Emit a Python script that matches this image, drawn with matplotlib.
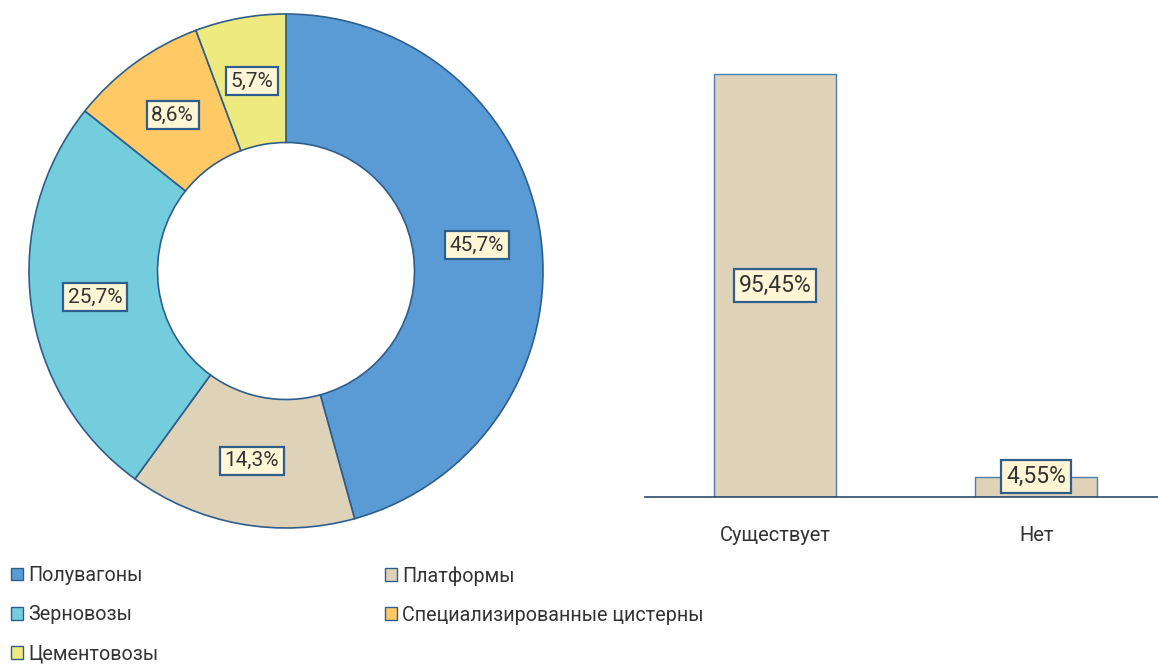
import matplotlib.pyplot as plt
from matplotlib.patches import Patch

plt.rcParams['font.family'] = ['Roboto', 'DejaVu Sans']

# Данные для кольцевой диаграммы
wagon_types = ['Полувагоны', 'Платформы', 'Зерновозы',
               'Специализированные цистерны', 'Цементовозы']
wagon_shares = [45.7, 14.3, 25.7, 8.6, 5.7]
wagon_colors = ['#5B9BD5', '#DED3B8', '#74CDDD', '#FFC966', '#EDEB7F']

# Данные для столбчатой диаграммы
answer_labels = ['Существует', 'Нет']
answer_values = [95.45, 4.55]

EDGE = '#2E5E8C'
TXT = '#333333'
BOX = dict(boxstyle='square,pad=0.22', facecolor='#FFF6D5', edgecolor=EDGE, linewidth=1.6)

W, H = 1158, 664
fig = plt.figure(figsize=(W / 100, H / 100), dpi=100)

# ---- кольцевая диаграмма ----
cx, cy, R = 286, 271, 257
ax1 = fig.add_axes([(cx - R) / W, (H - cy - R) / H, 2 * R / W, 2 * R / H])
wedges, texts, autotexts = ax1.pie(
    wagon_shares, colors=wagon_colors, startangle=90, counterclock=False,
    radius=1.0, autopct=lambda p: f'{p:.1f}%'.replace('.', ','), pctdistance=0.75,
    wedgeprops=dict(width=0.5, edgecolor=EDGE, linewidth=1.2),
    textprops=dict(fontsize=15, color=TXT))
for t in autotexts:
    t.set_bbox(BOX)
for w in wedges:
    w.set_clip_on(False)
ax1.set_xlim(-1, 1)
ax1.set_ylim(-1, 1)

# ---- столбчатая диаграмма ----
ax2 = fig.add_axes([645 / W, (H - 497) / H, (W - 645) / W, (497 - 54) / H])
x = range(len(answer_labels))
ax2.bar(x, answer_values, width=0.466, color='#DED3B8', edgecolor='#4A7FB0', linewidth=1)
for xi, v in zip(x, answer_values):
    ypos = v / 2 if v > 10 else v
    ax2.text(xi, ypos, f'{v:.2f}%'.replace('.', ','), ha='center', va='center',
             fontsize=16.5, color=TXT, bbox=BOX)
ax2.set_xlim(-0.497, 1.465)
ax2.set_ylim(0, 100)
for s in ['top', 'right', 'left']:
    ax2.spines[s].set_visible(False)
ax2.spines['bottom'].set_color('#2E4A66')
ax2.spines['bottom'].set_linewidth(1.2)
ax2.set_yticks([])
ax2.set_xticks(list(x))
ax2.set_xticklabels(answer_labels, fontsize=14.5, color=TXT)
ax2.tick_params(axis='x', length=0, pad=21)

# ---- легенда ----
def make_handles(names):
    return [Patch(facecolor=wagon_colors[wagon_types.index(n)], edgecolor=EDGE,
                  linewidth=1, label=n) for n in names]

leg_kw = dict(frameon=False, fontsize=14.2, handlelength=0.62, handleheight=0.62,
              handletextpad=0.25, labelspacing=1.02, borderaxespad=0, borderpad=0,
              labelcolor=TXT)
col1 = ['Полувагоны', 'Зерновозы', 'Цементовозы']
col2 = ['Платформы', 'Специализированные цистерны']
fig.legend(handles=make_handles(col1), loc='upper left',
           bbox_to_anchor=(11 / W, (H - 566) / H), **leg_kw)
fig.legend(handles=make_handles(col2), loc='upper left',
           bbox_to_anchor=(385 / W, (H - 566) / H), **leg_kw)

fig.savefig('out.png', dpi=100)
